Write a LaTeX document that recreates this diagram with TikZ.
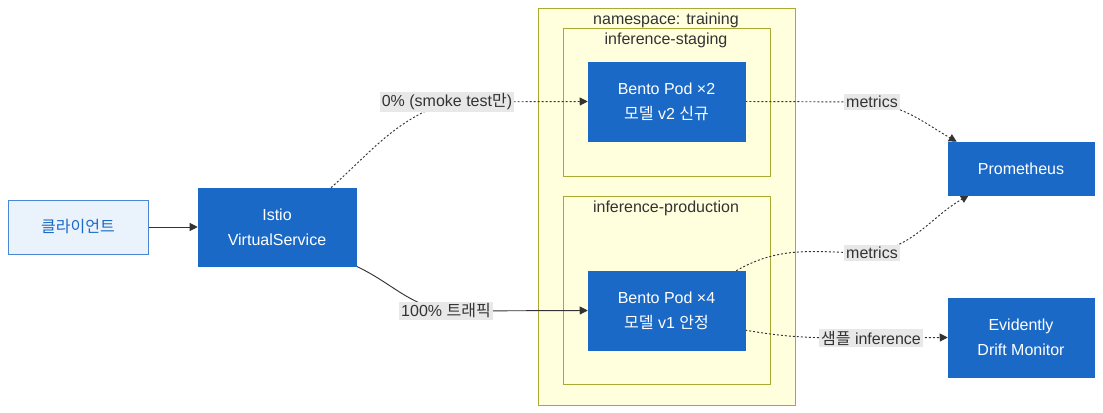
\documentclass[tikz,border=0pt]{standalone}
\usepackage{fontspec}
\setmainfont{Liberation Sans}
\newfontfamily\kr{Noto Sans CJK KR}
\usetikzlibrary{arrows.meta,positioning,calc}

\definecolor{podblue}{HTML}{1B69C7}
\definecolor{clientfill}{HTML}{EAF2FB}
\definecolor{nsfill}{HTML}{FFFFDE}
\definecolor{nsline}{HTML}{AAAA33}
\definecolor{lblfill}{HTML}{E8E8E8}
\definecolor{inkgray}{HTML}{333333}

\pgfdeclarelayer{bg}
\pgfdeclarelayer{edges}
\pgfsetlayers{bg,edges,main}

\begin{document}
\begin{tikzpicture}[x=0.75pt,y=-0.75pt,
    font=\fontsize{12}{19}\selectfont,
    pod/.style={draw=podblue,fill=podblue,text=white,align=center,inner sep=0pt},
    client/.style={draw=podblue!80,fill=clientfill,text=podblue,align=center,inner sep=0pt,
      minimum width=105pt,minimum height=40.5pt},
    ns/.style={draw=nsline,fill=nsfill,line width=0.6pt},
    nslabel/.style={text=inkgray,inner sep=0pt},
    elabel/.style={fill=lblfill,text=inkgray,inner sep=1.5pt},
    flow/.style={draw=inkgray,line width=0.7pt,-{Triangle[length=6pt,width=6pt]}},
    tap/.style={flow,dash pattern=on 1.5pt off 1.5pt}]

  \useasboundingbox (0,0) rectangle (1103,413);

  % clusters
  \begin{pgfonlayer}{bg}
    \draw[ns] (538,8) rectangle (795,405);
    \draw[ns] (563,28) rectangle (770,176);
    \draw[ns] (563,196) rectangle (770,384);
  \end{pgfonlayer}
  \node[nslabel] (nsTraining) at (666,20) {namespace: training};
  \node[nslabel] (nsStaging) at (666,40) {inference-staging};
  \node[nslabel] (nsProd) at (666,208) {inference-production};

  % nodes
  \node[client] (client) at (78,227) {\kr 클라이언트};
  \node[pod,minimum width=118.5pt,minimum height=58.5pt] (istio) at (277,227)
    {Istio\\VirtualService};
  \node[pod,minimum width=117.75pt,minimum height=59.25pt] (podV2) at (666.5,101.5)
    {Bento Pod ×2\\{\kr 모델} v2 {\kr 신규}};
  \node[pod,minimum width=117.75pt,minimum height=59.25pt] (podV1) at (666.5,310.5)
    {Bento Pod ×4\\{\kr 모델} v1 {\kr 안정}};
  \node[pod,minimum width=109.5pt,minimum height=39.75pt] (prom) at (1021,168.5)
    {Prometheus};
  \node[pod,minimum width=109.5pt,minimum height=59.25pt] (evid) at (1021,337.5)
    {Evidently\\Drift Monitor};

  % edge labels
  \node[elabel] (smoke) at (447,102) {0\% (smoke test{\kr 만})};
  \node[elabel] (live) at (446,311) {100\% {\kr 트래픽}};
  \node[elabel] (metricsV2) at (872,102) {metrics};
  \node[elabel] (metricsV1) at (872,253) {metrics};
  \node[elabel] (sample) at (871,338) {{\kr 샘플} inference};

  % connectors
  \begin{pgfonlayer}{edges}
    \draw[flow] (client.east) -- (istio.west);
    \draw[tap] (istio.36) to[out=42,in=200] (smoke.center) -- (podV2.west);
    \draw[flow] (istio.south east) to[out=-25,in=170] (live.center) -- (podV1.west);
    \draw[tap] (podV2.east) -- (metricsV2.center)
      to[out=-10,in=150] ([xshift=6.75pt]prom.north west);
    \draw[tap] ([xshift=-6.75pt]podV1.north east) to[out=30,in=180] (metricsV1.center)
      to[out=10,in=210] ([xshift=15.75pt]prom.south west);
    \draw[tap] (podV1.-14) to[out=-10,in=180] (sample.center) -- (evid.west);
  \end{pgfonlayer}
\end{tikzpicture}
\end{document}
